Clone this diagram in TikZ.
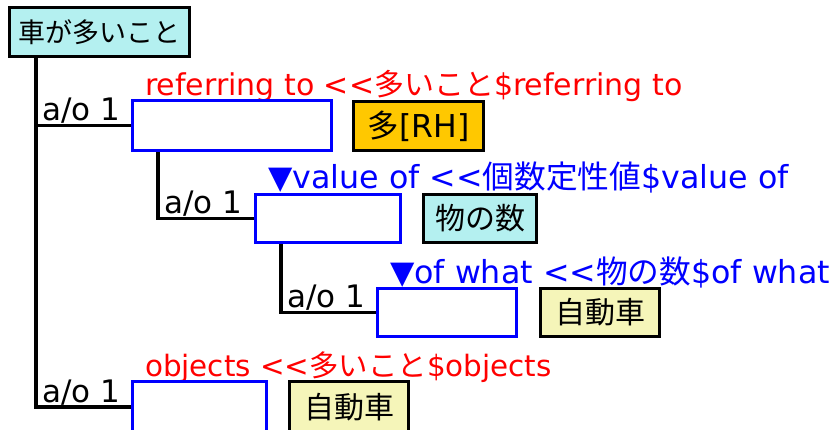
\documentclass[tikz,border=0pt]{standalone}
\usepackage{fontspec}
\setmainfont{DejaVu Sans}
\newfontfamily\jpfont{Noto Sans CJK JP}
\usetikzlibrary{calc,backgrounds}
\definecolor{rootcyan}{HTML}{B4F0F0}
\definecolor{rhorange}{HTML}{FFC800}
\definecolor{caryellow}{HTML}{F5F5B9}
\definecolor{slotblue}{HTML}{0000FF}
\newcommand\jp[1]{{\jpfont #1}}
\newcommand\dblless{<\kern0pt<}
\begin{document}
\begin{tikzpicture}[x=1pt,y=-1pt,
  font=\fontsize{30}{36}\selectfont,
  slot/.style={draw=slotblue, fill=white, line width=3.3pt, inner sep=0pt},
  concept/.style={draw=black, line width=3.3pt, inner sep=0pt},
  conn/.style={draw=black, line width=3.3pt},
  aolabel/.style={anchor=base west, inner sep=0pt, text=black, font=\fontsize{31}{37}\selectfont},
  redlabel/.style={anchor=base west, inner sep=0pt, text=red},
  bluelabel/.style={anchor=base west, inner sep=0pt, text=blue, font=\fontsize{31.7}{38}\selectfont}]
\useasboundingbox (0,0) rectangle (834,430);
\clip (0,0) rectangle (834,430);

% concept boxes and slots
\node[concept, fill=rootcyan, minimum width=180pt, minimum height=49pt, font=\fontsize{27}{32}\selectfont] (root) at (99.5,32) {\jp{車が多いこと}};
\node[slot, minimum width=199pt, minimum height=50pt] (box1) at (232,125.5) {};
\node[concept, fill=rhorange, minimum width=130pt, minimum height=49pt, font=\fontsize{31.5}{37}\selectfont] (rh) at (418.5,126) {\jp{多}[RH]};
\node[slot, minimum width=145pt, minimum height=48pt] (box2) at (328,218.5) {};
\node[concept, fill=rootcyan, minimum width=113pt, minimum height=48pt] (num) at (480,218.5) {\jp{物の数}};
\node[slot, minimum width=139pt, minimum height=48pt] (box3) at (447,312.5) {};
\node[concept, fill=caryellow, minimum width=119pt, minimum height=48pt] (car1) at (600,312.5) {\jp{自動車}};
\node[slot, minimum width=134pt, minimum height=51pt] (box4) at (199.5,407) {};
\node[concept, fill=caryellow, minimum width=119pt, minimum height=51pt] (car2) at (349,407) {\jp{自動車}};

% connectors
\coordinate (trunk) at (36,0);
\coordinate (sub2) at (158,0);
\coordinate (sub3) at (281,0);
\draw[conn] (root.south -| trunk) |- (box4.west);
\draw[conn] (trunk |- box1.west) -- (box1.west);
\draw[conn] (box1.south -| sub2) |- (box2.west);
\draw[conn] (box2.south -| sub3) |- (box3.west);

% a/o labels
\node[aolabel] (ao1) at ($(trunk |- box1.west)+(6,-5)$) {a/o 1};
\node[aolabel] (ao2) at ($(sub2 |- box2.west)+(6,-5)$) {a/o 1};
\node[aolabel] (ao3) at ($(sub3 |- box3.west)+(6,-5)$) {a/o 1};
\node[aolabel] (ao4) at ($(trunk |- box4.west)+(6,-5)$) {a/o 1};

% role labels (behind the slots)
\begin{scope}[on background layer]
\node[redlabel] (role1) at ($(box1.north west)+(14,-3)$) {referring to \dblless\jp{多いこと}\$referring to};
\node[bluelabel] (role2) at ($(box2.north west)+(14,-4)$) {▼value of \dblless\jp{個数定性値}\$value of};
\node[bluelabel] (role3) at ($(box3.north west)+(14,-3)$) {▼of what \dblless\jp{物の数}\$of what};
\node[redlabel, font=\fontsize{29.4}{35}\selectfont] (role4) at ($(box4.north west)+(14,-3)$) {objects \dblless\jp{多いこと}\$objects};
\end{scope}
\end{tikzpicture}
\end{document}
